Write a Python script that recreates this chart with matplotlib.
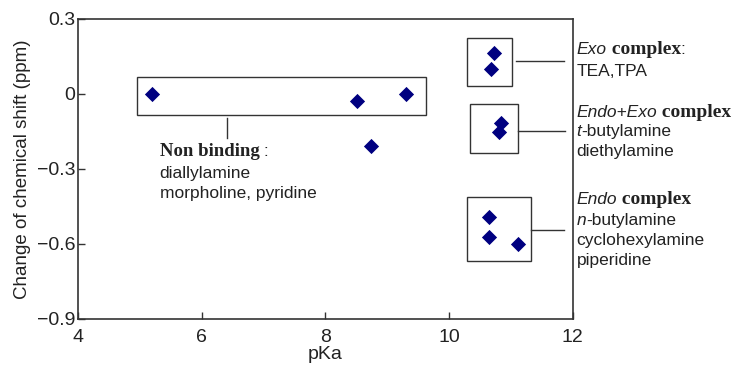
import matplotlib
matplotlib.use("Agg")
import matplotlib.pyplot as plt
from matplotlib.patches import Rectangle
from matplotlib.transforms import offset_copy

# ---- data ----
pka = [5.20, 8.51, 8.73, 9.30, 10.72, 10.67, 10.84, 10.80, 10.65, 10.65, 11.12]
shift = [0.00, -0.03, -0.21, 0.00, 0.163, 0.10, -0.117, -0.153, -0.493, -0.573, -0.601]
xticks = [4, 6, 8, 10, 12]
yticks = [0.3, 0, -0.3, -0.6, -0.9]
ytick_labels = ["0.3", "0", "\u22120.3", "\u22120.6", "\u22120.9"]

# group boxes (x0, y0, x1, y1) in data units
boxes = [(4.96, -0.085, 9.62, 0.067),
         (10.29, 0.032, 11.02, 0.225),
         (10.33, -0.235, 11.11, -0.041),
         (10.29, -0.667, 11.33, -0.411)]
# connector lines ((x0, x1), (y0, y1))
connectors = [((6.41, 6.41), (-0.097, -0.177)),
              ((11.08, 11.85), (0.133, 0.133)),
              ((11.11, 11.87), (-0.148, -0.148)),
              ((11.33, 11.85), (-0.544, -0.544))]

SANS = "Liberation Sans"
SERIF = "Liberation Serif"
EDGE = "#333333"

fig = plt.figure(figsize=(7.43, 3.70), dpi=100)
ax = fig.add_axes([0.105, 0.138, 0.666, 0.811])
ax.set_xlim(4, 12)
ax.set_ylim(-0.9, 0.3)

ax.scatter(pka, shift, marker="D", s=60, color="#000080", zorder=3, linewidths=0)

for (x0, y0, x1, y1) in boxes:
    ax.add_patch(Rectangle((x0, y0), x1 - x0, y1 - y0, fill=False,
                           edgecolor=EDGE, linewidth=1.0, zorder=2))
for xs, ys in connectors:
    ax.plot(xs, ys, color=EDGE, linewidth=1.0, clip_on=False)

ax.set_xticks(xticks)
ax.set_xticklabels([str(t) for t in xticks])
ax.set_yticks(yticks)
ax.set_yticklabels(ytick_labels)
ax.tick_params(direction="in", length=5, width=1.0, color=EDGE,
               labelsize=14, top=False, right=False)
ax.tick_params(axis="x", pad=7)
ax.tick_params(axis="y", pad=2)
for lab in ax.get_xticklabels() + ax.get_yticklabels():
    lab.set_fontfamily(SANS)
    lab.set_color("#222222")
for sp in ax.spines.values():
    sp.set_color(EDGE)
    sp.set_linewidth(1.2)

ax.set_xlabel("pKa", fontsize=14, fontfamily=SANS, color="#222222", labelpad=0.5)
ax.set_ylabel("Change of chemical shift (ppm)", fontsize=13.5,
              fontfamily=SANS, color="#222222", labelpad=4)

fig.canvas.draw()
renderer = fig.canvas.get_renderer()

def rich(x, y, parts):
    """Draw consecutive text parts on one line starting at data (x, y)."""
    dx = 0.0
    for txt, fam, weight, style, size in parts:
        tr = offset_copy(ax.transData, fig=fig, x=dx, y=0, units="dots")
        t = ax.text(x, y, txt, transform=tr, fontfamily=fam, fontweight=weight,
                    fontstyle=style, fontsize=size, va="center", ha="left",
                    color="#222222", clip_on=False)
        bb = t.get_window_extent(renderer=renderer)
        dx += bb.width

S = 12.5
B = 14
# non binding annotation
rich(5.32, -0.232, [("Non binding", SERIF, "bold", "normal", 13.5), (" :", SANS, "normal", "normal", S)])
rich(5.32, -0.32, [("diallylamine", SANS, "normal", "normal", S)])
rich(5.32, -0.40, [("morpholine, pyridine", SANS, "normal", "normal", S)])

rx = 12.06
rich(rx, 0.176, [("Exo", SANS, "normal", "italic", S), (" complex", SERIF, "bold", "normal", B),
                 (":", SANS, "normal", "normal", S)])
rich(rx, 0.088, [("TEA,TPA", SANS, "normal", "normal", S)])
rich(rx, -0.075, [("Endo+Exo", SANS, "normal", "italic", S), (" complex", SERIF, "bold", "normal", B)])
rich(rx, -0.151, [("t", SANS, "normal", "italic", S), ("-butylamine", SANS, "normal", "normal", S)])
rich(rx, -0.231, [("diethylamine", SANS, "normal", "normal", S)])
rich(rx, -0.421, [("Endo", SANS, "normal", "italic", S), (" complex", SERIF, "bold", "normal", B)])
rich(rx, -0.507, [("n", SANS, "normal", "italic", S), ("-butylamine", SANS, "normal", "normal", S)])
rich(rx, -0.587, [("cyclohexylamine", SANS, "normal", "normal", S)])
rich(rx, -0.667, [("piperidine", SANS, "normal", "normal", S)])

fig.savefig("out.png", dpi=100, facecolor="white")
